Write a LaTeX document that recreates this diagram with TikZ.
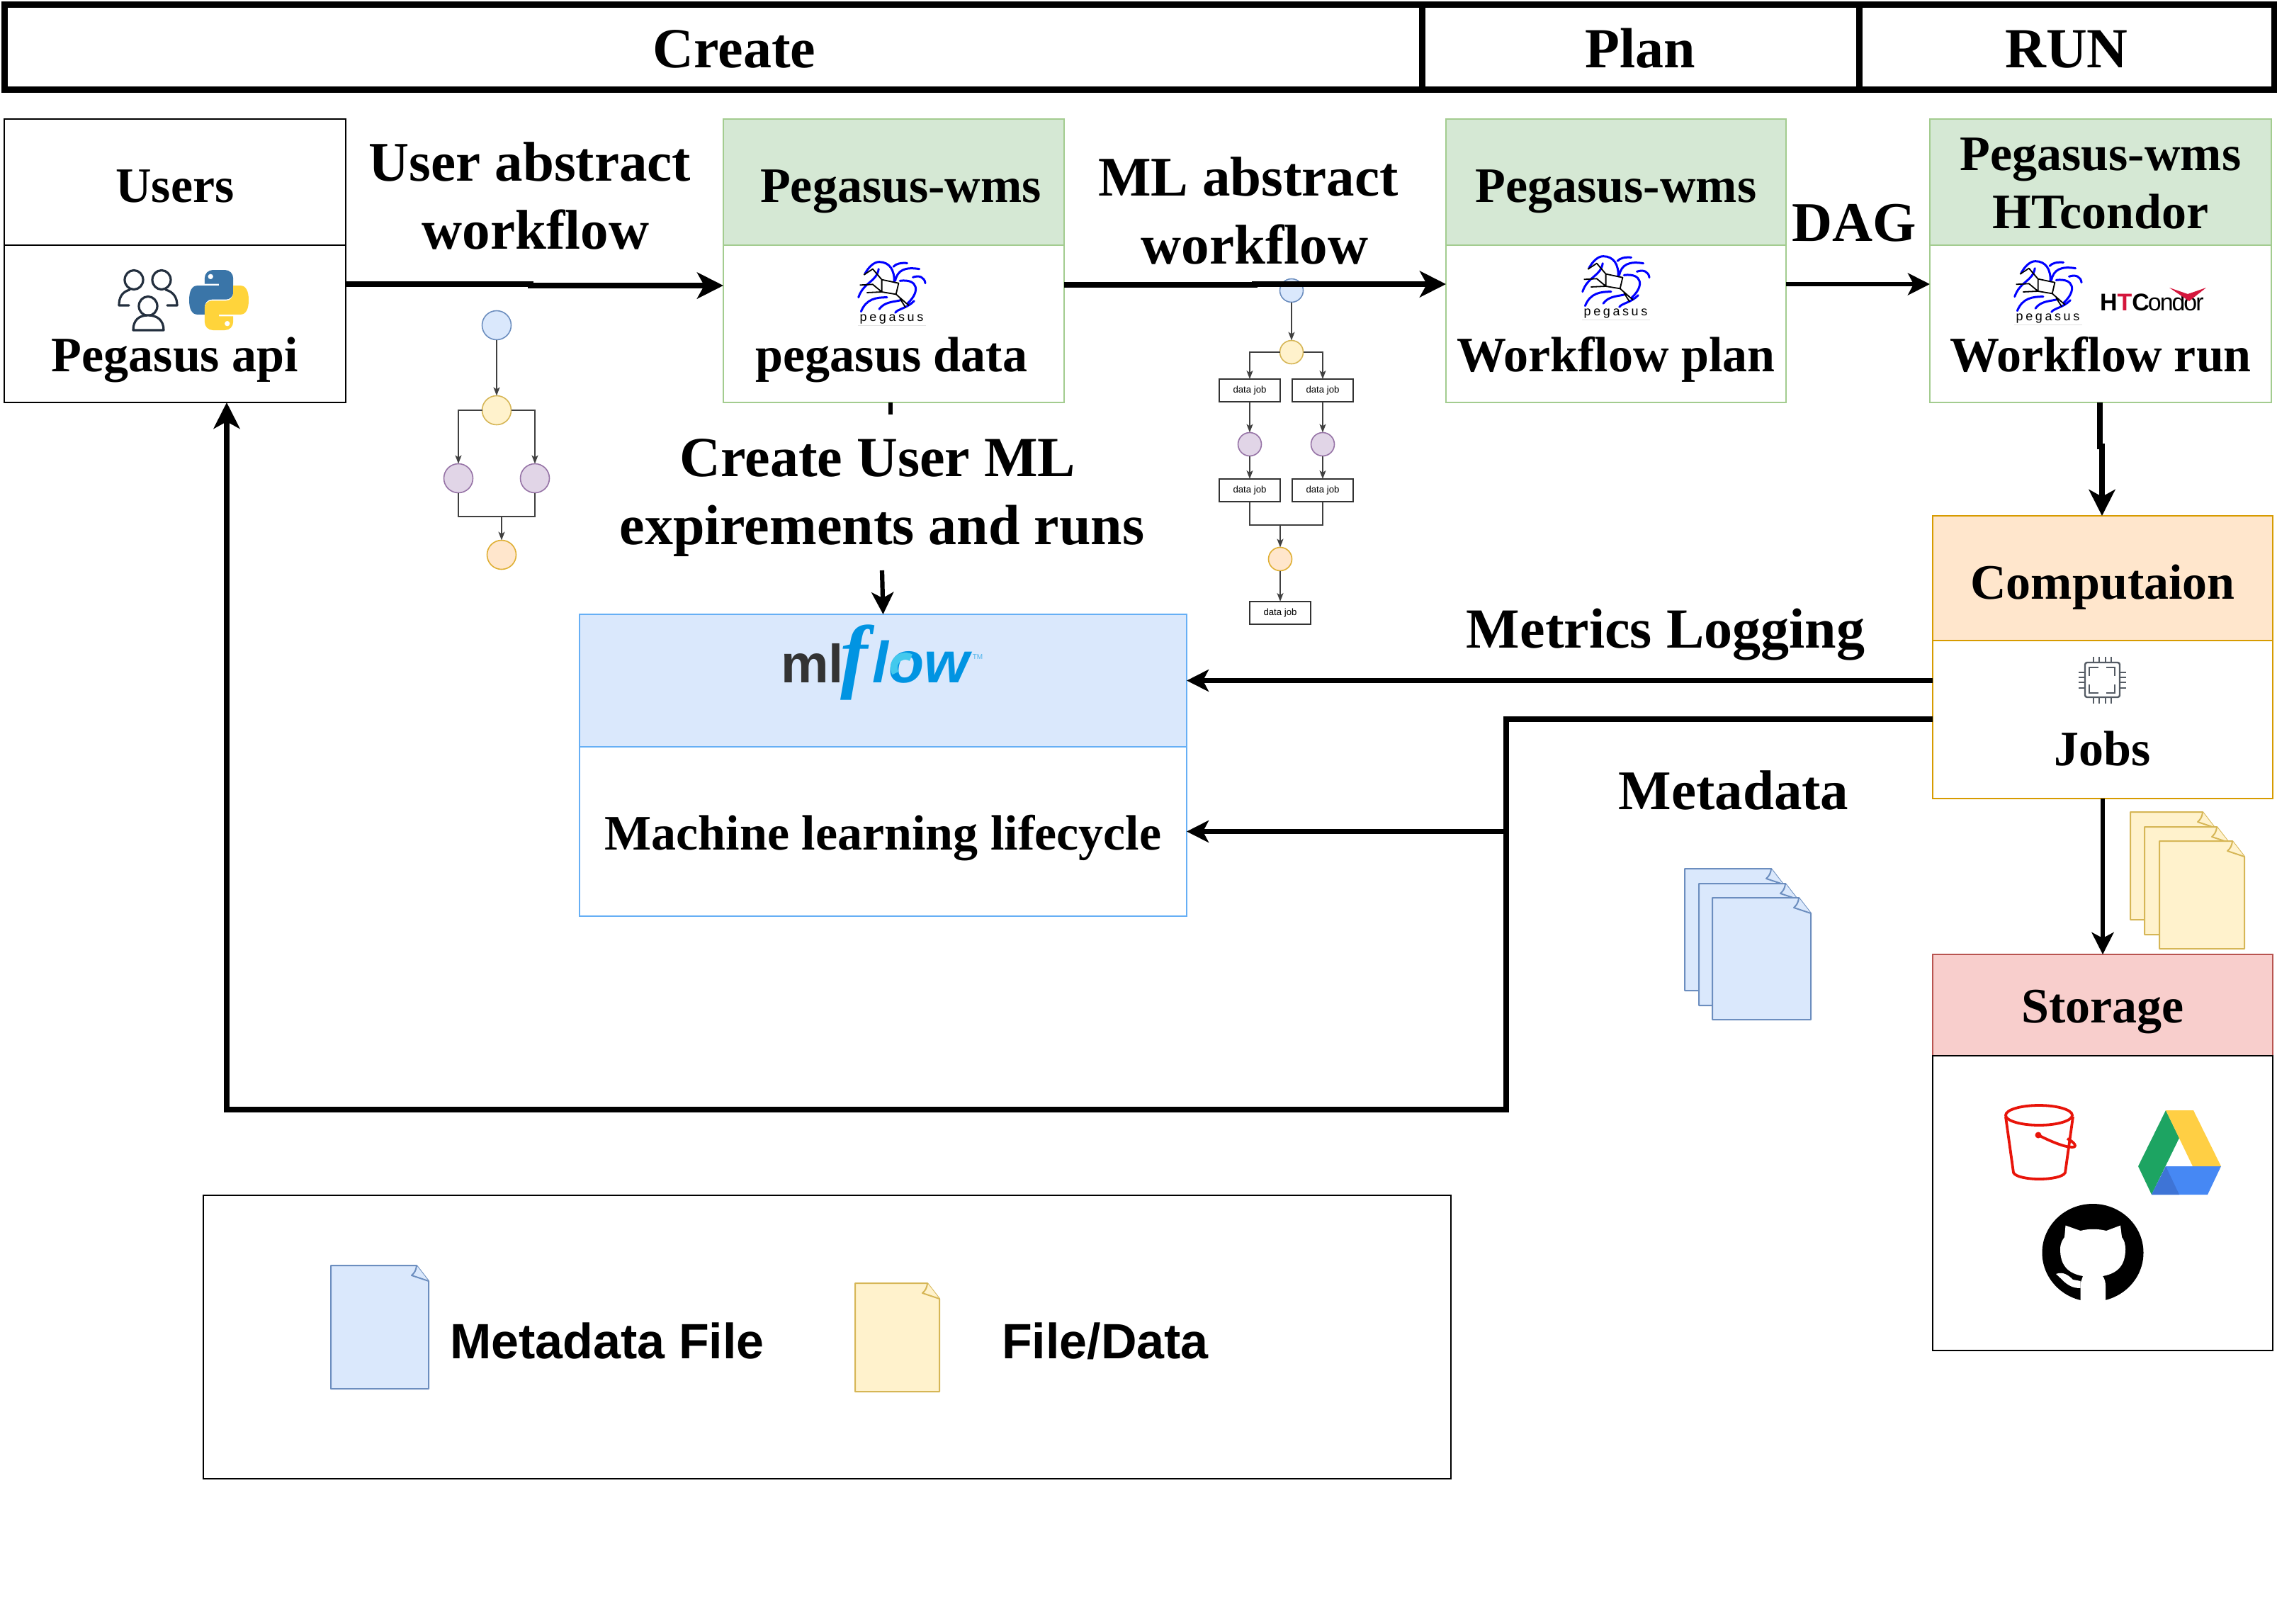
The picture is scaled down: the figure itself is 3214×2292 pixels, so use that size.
\documentclass[tikz,border=0pt]{standalone}
\usepackage{fontspec}
\setmainfont{Liberation Serif}
\setsansfont{Liberation Sans}
\usetikzlibrary{arrows.meta}
\definecolor{gfill}{HTML}{D5E8D4}\definecolor{gline}{HTML}{A3CC8F}
\definecolor{bfill}{HTML}{DAE8FC}\definecolor{bline}{HTML}{6C8EBF}
\definecolor{mlline}{HTML}{66AFF5}
\definecolor{yfill}{HTML}{FFF2CC}\definecolor{yline}{HTML}{D6B656}
\definecolor{ofill}{HTML}{FFE6CC}\definecolor{oline}{HTML}{D79B00}
\definecolor{pfill}{HTML}{E1D5E7}\definecolor{pline}{HTML}{9673A6}
\definecolor{rfill}{HTML}{F8CECC}\definecolor{rline}{HTML}{B85450}
\definecolor{mlblue}{HTML}{0194E2}\definecolor{mllight}{HTML}{43C9ED}
\definecolor{pyblue}{HTML}{3A75A8}\definecolor{pyyellow}{HTML}{FFD43B}
\definecolor{awsdark}{HTML}{232F3E}\definecolor{chipgray}{HTML}{545B64}
\definecolor{bucket}{HTML}{E8140A}\definecolor{condorred}{HTML}{D4163C}
\definecolor{drgreen}{HTML}{1DA462}\definecolor{dryellow}{HTML}{FFCF44}
\definecolor{drblue}{HTML}{4688F4}\definecolor{drdark}{HTML}{3E74D6}
\newcommand\fsz[2]{\bfseries\fontsize{#1pt}{#2pt}\selectfont}
\newcommand\boxnode[7]{\node[#6,minimum width={(#4-#2)*0.5pt},minimum height={(#5-#3)*0.5pt}] (#1) at ({(#2+#4)/2},{(#3+#5)/2}) {#7};}
\newcommand\docshape[5]{%
  \draw[#5] (#1,#2) -- ({#3-17},#2) -- (#3,{#2+22}) -- (#3,#4) -- (#1,#4) -- cycle;
  \draw[#5] ({#3-17},#2) .. controls ({#3-18},{#2+8}) and ({#3-20},{#2+10}) .. ({#3-24},{#2+14}) -- (#3,{#2+22});}
\tikzset{
  x=0.5pt,y=-0.5pt,
  boxbase/.style={rectangle,inner sep=0pt,outer sep=0pt,line width=1.25pt,align=center},
  bar/.style={boxbase,draw=black,line width=4.5pt,font=\fsz{40}{47},text height=29pt,text depth=0pt},
  plain/.style={boxbase,draw=black,font=\fsz{35}{41}},
  greenhead/.style={boxbase,draw=gline,fill=gfill,font=\fsz{35}{41}},
  greenbody/.style={boxbase,draw=gline,fill=white,font=\fsz{35}{41}},
  base/.style={text height=#1,text depth=0pt},
  free/.style={inner sep=0pt,outer sep=0pt,align=center},
  bigarrow/.style={line width=3.75pt,draw=black,-{Stealth[length=18.5pt,width=18.5pt,inset=5pt]}},
  midarrow/.style={line width=3.1pt,draw=black,-{Stealth[length=15.5pt,width=15.5pt,inset=4pt]}},
  mini/.style={draw=black!75,line width=0.8pt,-{Stealth[length=6pt,width=4.5pt,inset=1.5pt]}},
  miniline/.style={draw=black!75,line width=0.8pt},
  dot/.style={circle,inner sep=0pt,outer sep=0pt,line width=0.8pt,minimum size=20.5pt},
  smalldot/.style={circle,inner sep=0pt,outer sep=0pt,line width=0.8pt,minimum size=16.5pt},
  jobbox/.style={rectangle,draw=black!80,fill=white,line width=0.8pt,inner sep=0pt,outer sep=0pt,minimum width=43pt,minimum height=16pt,font=\sffamily\fontsize{6.6pt}{8pt}\selectfont},
  bluedoc/.style={fill=bfill,draw=bline,line width=1pt,line join=round},
  yellowdoc/.style={fill=yfill,draw=yline,line width=1pt,line join=round},
  pegasuslogo/.pic={
    \begin{scope}[xscale=0.3655,yscale=0.3333,shift={(-528,-80)}]
      \draw[blue,line width=1.5pt,line cap=round]
        (555,135) .. controls (570,105) and (590,85) .. (610,85) .. controls (650,85) and (670,120) .. (668,170)
        (665,105) .. controls (675,92) and (695,88) .. (718,90)
        (672,165) .. controls (680,120) and (710,105) .. (765,115)
        (690,165) .. controls (760,155) and (770,210) .. (720,260)
        (740,150) .. controls (765,140) and (785,150) .. (788,175)
        (608,115) .. controls (600,170) and (550,170) .. (530,235)
        (540,295) .. controls (560,240) and (600,235) .. (640,235)
        (610,285) .. controls (630,255) and (660,255) .. (690,248)
        (672,300) .. controls (680,285) and (720,280) .. (745,250);
      \draw[black,line width=0.9pt,line join=round]
        (553,138) -- (585,115) -- (620,160) -- (685,175) -- (675,222) -- (620,212) -- (620,160)
        (535,183) -- (585,180) -- (620,212) (562,215) -- (620,212)
        (675,222) -- (725,270) (690,240) -- (712,278);
      \fill (553,138) circle (4);
      \node[free,font=\sffamily\fontsize{9pt}{9pt}\selectfont\addfontfeature{LetterSpace=20}] (-t) at (658,328) {pegasus};
      \draw[black!12,line width=0.5pt] (528,354) -- (790,354);
    \end{scope}
  },
  pythonlogo/.pic={
    \begin{scope}[xscale=0.84,yscale=0.85]
      \fill[pyblue,even odd rule] (40,0) -- (60,0) .. controls (68,0) and (74,6) .. (74,14) -- (74,38) .. controls (74,44) and (68,49) .. (62,49) -- (38,49) .. controls (30,49) and (26,56) .. (26,62) -- (26,74) -- (14,74) .. controls (4,74) and (0,64) .. (0,50) .. controls (0,36) and (4,26) .. (14,26) -- (50,26) -- (50,23) -- (26,23) -- (26,14) .. controls (26,6) and (32,0) .. (40,0) -- cycle (36,11) circle (4.5);
      \fill[pyyellow,even odd rule] (60,100) -- (40,100) .. controls (32,100) and (26,94) .. (26,86) -- (26,62) .. controls (26,56) and (32,51) .. (38,51) -- (62,51) .. controls (70,51) and (74,44) .. (74,38) -- (74,26) -- (86,26) .. controls (96,26) and (100,36) .. (100,50) .. controls (100,64) and (96,74) .. (86,74) -- (50,74) -- (50,77) -- (74,77) -- (74,86) .. controls (74,94) and (68,100) .. (60,100) -- cycle (64,89) circle (4.5);
    \end{scope}
  }
}
\begin{document}
\begin{tikzpicture}
\useasboundingbox (0,0) rectangle (3214,2292);
\fill[white] (0,0) rectangle (3214,2292);

% top bar
\boxnode{create}{6}{6}{2007}{126}{bar}{\hspace*{30pt}Create}
\boxnode{plan}{2007}{6}{2624}{126}{bar}{Plan}
\boxnode{run}{2624}{6}{3210}{126}{bar}{RUN}

% small workflow 1
\node[dot,draw=bline,fill=bfill] (a1) at (701,459) {};
\node[dot,draw=yline,fill=yfill] (a2) at (701,579) {};
\node[dot,draw=pline,fill=pfill] (a3) at (647,675) {};
\node[dot,draw=pline,fill=pfill] (a4) at (755,675) {};
\node[dot,draw=oline!80,fill=ofill] (a5) at (708,783) {};
\coordinate (am) at (708,729);
\draw[mini] (a1) -- (a2);
\draw[mini] (a2.west) -| (a3.north);
\draw[mini] (a2.east) -| (a4.north);
\draw[miniline] (a3.south) |- (am) -| (a4.south);
\draw[mini] (am) -- (a5.north);

% small workflow 2
\node[smalldot,draw=bline,fill=bfill] (b1) at (1823,410) {};
\node[smalldot,draw=yline,fill=yfill] (b2) at (1823,497) {};
\node[jobbox] (b3) at (1764,551) {data job};
\node[jobbox] (b4) at (1867,551) {data job};
\node[smalldot,draw=pline,fill=pfill] (b5) at (1764,627) {};
\node[smalldot,draw=pline,fill=pfill] (b6) at (1867,627) {};
\node[jobbox] (b7) at (1764,692) {data job};
\node[jobbox] (b8) at (1867,692) {data job};
\node[smalldot,draw=oline!80,fill=ofill] (b9) at (1807,789) {};
\node[jobbox] (b10) at (1807,865) {data job};
\coordinate (bm) at (1807,741);
\draw[mini] (b1) -- (b2);
\draw[mini] (b2.west) -| (b3.north);
\draw[mini] (b2.east) -| (b4.north);
\draw[mini] (b3) -- (b5);
\draw[mini] (b4) -- (b6);
\draw[mini] (b5) -- (b7);
\draw[mini] (b6) -- (b8);
\draw[miniline] (b7.south) |- (bm) -| (b8.south);
\draw[mini] (bm) -- (b9.north);
\draw[mini] (b9) -- (b10);

% users
\boxnode{uhead}{6}{168}{488}{346}{plain,base=28pt}{Users}
\boxnode{ubody}{6}{346}{488}{568}{plain,base=67.5pt}{Pegasus api}
% pegasus data
\boxnode{phead}{1021}{168}{1502}{346}{greenhead,base=28pt}{\hspace*{10pt}Pegasus-wms}
\boxnode{pbody}{1021}{346}{1502}{568}{greenbody,base=67.5pt}{\hspace*{-3pt}pegasus data}
% plan
\boxnode{qhead}{2041}{168}{2521}{346}{greenhead,base=28pt}{Pegasus-wms}
\boxnode{qbody}{2041}{346}{2521}{568}{greenbody,base=67.5pt}{Workflow plan}
% run
\boxnode{rhead}{2724}{168}{3206}{346}{greenhead}{\rule{0pt}{25pt}Pegasus-wms\\HTcondor}
\boxnode{rbody}{2724}{346}{3206}{568}{greenbody,base=67.5pt}{Workflow run}
% computation
\boxnode{chead}{2728}{728}{3208}{904}{boxbase,draw=oline,fill=ofill,font=\fsz{35}{41},base=29pt}{Computaion}
\boxnode{cbody}{2728}{904}{3208}{1127}{boxbase,draw=oline,fill=white,font=\fsz{35}{41},base=64.5pt}{Jobs}
% storage
\boxnode{shead}{2728}{1347}{3208}{1490}{boxbase,draw=rline,fill=rfill,font=\fsz{35}{41},base=24.5pt}{Storage}
\boxnode{sbody}{2728}{1490}{3208}{1906}{plain}{}
% mlflow
\boxnode{mhead}{818}{867}{1675}{1054}{boxbase,draw=mlline,fill=bfill}{}
\boxnode{mbody}{818}{1054}{1675}{1293}{boxbase,draw=mlline,fill=white,font=\fsz{35}{41},base=25.5pt}{Machine learning lifecycle}
% legend
\boxnode{legend}{287}{1687}{2048}{2087}{plain}{}

% connectors
\draw[bigarrow] (ubody.east |- 0,401) -- (749,401) -- (749,403) -- (phead.west |- 0,403);
\draw[bigarrow] (pbody.east |- 0,402) -- (1771,402) -- (1771,401) -- (qbody.west |- 0,401);
\draw[midarrow] (qbody.east |- 0,401) -- (rbody.west |- 0,401);
\draw[bigarrow] (rbody.south -| 2964,0) -- (2964,630) -- (2967,630) -- (chead.north -| 2967,0);
\draw[midarrow] (cbody.south -| 2968,0) -- (shead.north -| 2968,0);
\draw[midarrow] (cbody.west |- mhead.east) -- (mhead.east);
\coordinate (lj) at (2126,1173.5);
\draw[bigarrow] (cbody.west |- 0,1015) -- (2126,1015) -- (2126,1566) -- (320,1566) -- (ubody.south -| 320,0);
\draw[midarrow] (lj) -- (mbody.east);

% create user ML connector
\coordinate (tickend) at (1257,585);
\coordinate (cl) at (1245,805);
\draw[line width=3pt] (pbody.south -| tickend) -- (tickend);
\draw[midarrow] (cl) -- (mhead.north);

% labels
\node[free,font=\fsz{39.5}{48}] (l1) at (752,276) {User abstract\hspace*{4pt}\\\hspace*{4pt}workflow};
\node[free,font=\fsz{39.5}{48}] (l2) at (1766,297) {ML abstract\hspace*{4pt}\\\hspace*{5pt}workflow};
\node[free,font=\fsz{40}{48}] (l3) at (1242,703) {Create User ML\hspace*{3pt}\\\hspace*{3pt}expirements and runs};
\node[free,font=\fsz{39.5}{48},anchor=base] (l4) at (2617,340) {DAG};
\node[free,font=\fsz{40}{48},anchor=base] (l5) at (2351,914) {Metrics Logging};
\node[free,font=\fsz{39.5}{48},anchor=base] (l6) at (2447,1142) {Metadata};
\node[free,font=\sffamily\fsz{35}{41},anchor=base] (l7) at (857,1917) {Metadata File};
\node[free,font=\sffamily\fsz{35}{41},anchor=base] (l8) at (1560,1917) {File/Data};

% documents
\docshape{2378}{1226}{2517}{1398}{bluedoc}
\docshape{2398}{1247}{2537}{1419}{bluedoc}
\docshape{2417}{1267}{2556}{1439}{bluedoc}
\docshape{3007}{1146}{3126}{1298}{yellowdoc}
\docshape{3027}{1167}{3146}{1319}{yellowdoc}
\docshape{3048}{1187}{3168}{1339}{yellowdoc}
\docshape{467}{1786}{605}{1960}{bluedoc}
\docshape{1207}{1811}{1326}{1964}{yellowdoc}

% pegasus logos
\pic (pa) at (1211,368) {pegasuslogo};
\pic (pb) at (2233,360) {pegasuslogo};
\pic (pc) at (2843,367) {pegasuslogo};

% htcondor
\node[free,anchor=base west,font=\sffamily\fontsize{17pt}{17pt}\selectfont\addfontfeature{LetterSpace=-6}] (htc) at (2964,438) {\textbf{H\textcolor{condorred}{T}C}ondor};
\fill[condorred] (3062,406) -- (3088,415) -- (3114,406) -- (3090,425) -- cycle;

% users icon
\begin{scope}[draw=awsdark,line width=1.6pt,line join=round,line cap=round]
  \draw (189,395) ellipse (13 and 13.5);
  \draw (228,395) ellipse (13 and 13.5);
  \draw (183,409) .. controls (172,412) and (168,420) .. (168,431) -- (182,431);
  \draw (234,409) .. controls (245,412) and (250,420) .. (250,431) -- (236,431);
  \draw[fill=white] (209,432) ellipse (13 and 13.5);
  \draw[fill=white] (188,466) .. controls (188,452) and (196,445) .. (209,445) .. controls (222,445) and (231,452) .. (231,466) -- cycle;
\end{scope}
\pic (py) at (267,381) {pythonlogo};

% mlflow logo
\node[free,anchor=base west] (mlf) at (1102,963) {\sffamily\bfseries\fontsize{38pt}{40pt}\selectfont\textcolor{black!80}{ml}\kern-2pt\textcolor{mlblue}{{\rmfamily\itshape\fontsize{58pt}{60pt}\selectfont f}\kern3pt{\itshape\fontsize{41pt}{41pt}\selectfont low}}};
\draw[mllight,line width=5pt] (1264,950) arc[start angle=150,end angle=300,radius=16];
\node[free,font=\sffamily\fontsize{5pt}{6pt}\selectfont,text=mlblue!70] (tm) at (1380,927) {TM};

% chip
\begin{scope}[draw=chipgray,line width=1.2pt]
  \draw[rounded corners=1.5pt] (2943,935) rectangle (2992,984);
  \foreach \v in {2955,2963,2972,2980} {\draw (\v,927) -- (\v,935); \draw (\v,984) -- (\v,993);}
  \foreach \v in {949,956,963,971} {\draw (2934,\v) -- (2943,\v); \draw (2992,\v) -- (3001,\v);}
  \draw (2949,954) |- (2962,942);
  \draw (2973,942) -| (2985,954);
  \draw (2949,966) |- (2962,978);
  \draw (2973,978) -| (2985,966);
\end{scope}

% bucket
\begin{scope}[draw=bucket,line width=1.9pt,line join=round,xshift=-1pt]
  \draw (2880,1574) ellipse (47 and 14);
  \draw (2833,1576) -- (2844,1655) .. controls (2850,1667) and (2911,1667) .. (2917,1655) -- (2928,1576);
  \fill[bucket] (2879,1602) circle (4.5);
  \draw (2879,1602) .. controls (2895,1610) and (2915,1619) .. (2927,1619) .. controls (2935,1619) and (2930,1612) .. (2920,1607);
\end{scope}

% google drive
\begin{scope}[xshift=-2pt]
\fill[drgreen] (3022,1646) -- (3061,1567) -- (3080,1606) -- (3041,1686) -- cycle;
\fill[dryellow] (3061,1567) -- (3100,1567) -- (3139,1646) -- (3099,1646) -- cycle;
\fill[drblue] (3061,1646) -- (3139,1646) -- (3120,1686) -- (3041,1686) -- cycle;
\fill[drdark] (3061,1646) -- (3080,1686) -- (3041,1686) -- cycle;
\end{scope}

% github
\begin{scope}[xshift=-1pt]
\fill[black] (2956,1768) ellipse (71.5 and 69);
\fill[white] (2938.6,1845) -- (2938.6,1811) -- (2942,1801) .. controls (2920,1797) and (2910,1785) .. (2910,1763) .. controls (2910,1755) and (2913,1750) .. (2916,1746) -- (2917.5,1729.5) -- (2938.6,1737) .. controls (2950,1734) and (2963,1734) .. (2975,1737) -- (2995,1729.5) -- (2997,1746) .. controls (3000,1750) and (3002,1755) .. (3002,1763) .. controls (3002,1785) and (2992,1797) .. (2970,1801) .. controls (2973,1805) and (2974,1810) .. (2974,1815) -- (2974,1845) -- cycle;
\fill[white] (2904,1798) .. controls (2914,1794) and (2922,1800) .. (2928,1806) -- (2938.6,1808) -- (2938.6,1818) .. controls (2920,1818) and (2914,1806) .. (2904,1798) -- cycle;
\end{scope}
\end{tikzpicture}
\end{document}
